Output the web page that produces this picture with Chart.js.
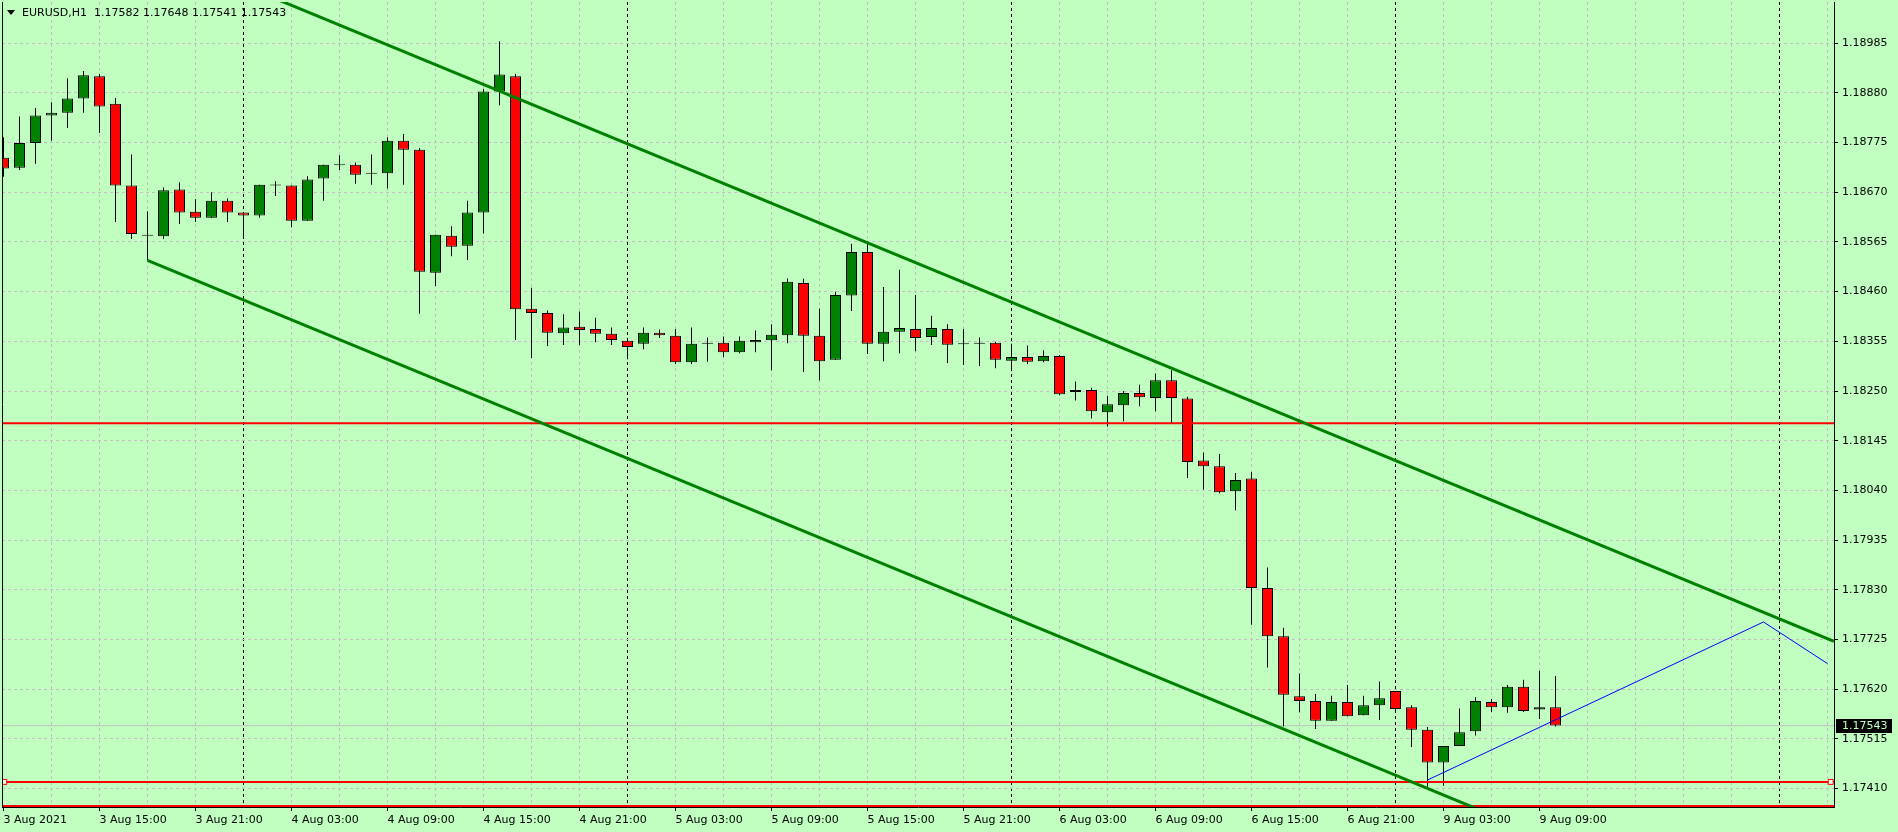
<!DOCTYPE html>
<html>
<head>
<meta charset="utf-8">
<title>EURUSD,H1</title>
<script src="https://cdn.jsdelivr.net/npm/chart.js@4.4.1/dist/chart.umd.min.js"></script>
<style>
    html, body { margin: 0; padding: 0; background: #c0ffc0; overflow: hidden; }
    #chart { display: block; }
</style>
</head>
<body>
<canvas id="chart" width="1898" height="832"></canvas>
<script>
const symbol = 'EURUSD,H1';

// H1 bars, 3 Aug 2021 09:00 -> 9 Aug 2021 10:00 (index = bar number)
const opens = [
    1.18743, 1.18722, 1.18774, 1.18832, 1.18838, 1.18868, 1.18915, 1.18857, 1.18684, 1.18578,
    1.18577, 1.18676, 1.18629, 1.18616, 1.18652, 1.18627, 1.18621, 1.18684, 1.18684, 1.18610,
    1.18699, 1.18727, 1.18728, 1.18709, 1.18710, 1.18779, 1.18760, 1.18500, 1.18578, 1.18557,
    1.18627, 1.18883, 1.18915, 1.18424, 1.18415, 1.18372, 1.18386, 1.18381, 1.18371, 1.18356,
    1.18350, 1.18373, 1.18367, 1.18311, 1.18351, 1.18352, 1.18332, 1.18353, 1.18357, 1.18368,
    1.18478, 1.18367, 1.18316, 1.18452, 1.18544, 1.18350, 1.18375, 1.18381, 1.18364, 1.18381,
    1.18349, 1.18350, 1.18352, 1.18314, 1.18322, 1.18313, 1.18324, 1.18248, 1.18252, 1.18205,
    1.18220, 1.18246, 1.18235, 1.18273, 1.18234, 1.18103, 1.18091, 1.18038, 1.18065, 1.17834,
    1.17732, 1.17605, 1.17595, 1.17553, 1.17593, 1.17565, 1.17586, 1.17616, 1.17582, 1.17534,
    1.17465, 1.17500, 1.17531, 1.17593, 1.17582, 1.17625, 1.17577, 1.17582
];
const highs = [
    1.18786, 1.18830, 1.18848, 1.18860, 1.18911, 1.18926, 1.18920, 1.18869, 1.18750, 1.18630,
    1.18680, 1.18691, 1.18655, 1.18670, 1.18657, 1.18628, 1.18686, 1.18693, 1.18684, 1.18704,
    1.18728, 1.18748, 1.18733, 1.18750, 1.18786, 1.18793, 1.18763, 1.18580, 1.18598, 1.18652,
    1.18888, 1.18989, 1.18920, 1.18468, 1.18420, 1.18412, 1.18418, 1.18405, 1.18384, 1.18356,
    1.18384, 1.18380, 1.18381, 1.18384, 1.18363, 1.18365, 1.18365, 1.18378, 1.18391, 1.18488,
    1.18487, 1.18424, 1.18460, 1.18561, 1.18563, 1.18470, 1.18506, 1.18453, 1.18409, 1.18391,
    1.18381, 1.18363, 1.18354, 1.18350, 1.18346, 1.18336, 1.18326, 1.18270, 1.18257, 1.18240,
    1.18250, 1.18263, 1.18287, 1.18294, 1.18238, 1.18120, 1.18117, 1.18077, 1.18079, 1.17877,
    1.17750, 1.17653, 1.17610, 1.17606, 1.17629, 1.17606, 1.17636, 1.17616, 1.17586, 1.17540,
    1.17500, 1.17579, 1.17603, 1.17599, 1.17629, 1.17640, 1.17659, 1.17648
];
const lows = [
    1.18703, 1.18717, 1.18730, 1.18779, 1.18806, 1.18838, 1.18795, 1.18607, 1.18571, 1.18526,
    1.18571, 1.18603, 1.18607, 1.18616, 1.18607, 1.18573, 1.18616, 1.18662, 1.18596, 1.18610,
    1.18652, 1.18717, 1.18688, 1.18686, 1.18678, 1.18686, 1.18413, 1.18472, 1.18535, 1.18527,
    1.18583, 1.18854, 1.18358, 1.18320, 1.18345, 1.18347, 1.18347, 1.18353, 1.18347, 1.18317,
    1.18338, 1.18362, 1.18307, 1.18307, 1.18312, 1.18322, 1.18330, 1.18332, 1.18294, 1.18351,
    1.18290, 1.18272, 1.18316, 1.18419, 1.18328, 1.18313, 1.18330, 1.18334, 1.18347, 1.18309,
    1.18305, 1.18303, 1.18298, 1.18292, 1.18307, 1.18311, 1.18241, 1.18230, 1.18192, 1.18175,
    1.18186, 1.18218, 1.18207, 1.18181, 1.18066, 1.18042, 1.18034, 1.17998, 1.17756, 1.17666,
    1.17541, 1.17571, 1.17536, 1.17553, 1.17563, 1.17565, 1.17555, 1.17572, 1.17498, 1.17414,
    1.17416, 1.17500, 1.17522, 1.17572, 1.17570, 1.17572, 1.17557, 1.17541
];
const closes = [
    1.18720, 1.18774, 1.18832, 1.18838, 1.18868, 1.18917, 1.18851, 1.18684, 1.18582, 1.18578,
    1.18674, 1.18627, 1.18616, 1.18652, 1.18627, 1.18621, 1.18686, 1.18686, 1.18610, 1.18697,
    1.18728, 1.18727, 1.18707, 1.18709, 1.18779, 1.18760, 1.18502, 1.18580, 1.18555, 1.18627,
    1.18883, 1.18919, 1.18423, 1.18415, 1.18373, 1.18384, 1.18379, 1.18371, 1.18358, 1.18343,
    1.18373, 1.18368, 1.18311, 1.18350, 1.18350, 1.18332, 1.18356, 1.18358, 1.18369, 1.18481,
    1.18367, 1.18313, 1.18453, 1.18544, 1.18350, 1.18375, 1.18383, 1.18362, 1.18383, 1.18348,
    1.18349, 1.18350, 1.18316, 1.18322, 1.18312, 1.18324, 1.18243, 1.18252, 1.18207, 1.18222,
    1.18246, 1.18237, 1.18273, 1.18235, 1.18100, 1.18091, 1.18036, 1.18062, 1.17834, 1.17732,
    1.17608, 1.17595, 1.17553, 1.17593, 1.17563, 1.17586, 1.17601, 1.17578, 1.17534, 1.17465,
    1.17500, 1.17529, 1.17595, 1.17582, 1.17625, 1.17574, 1.17582, 1.17543
];

// one label every 6 bars, starting at bar 0
const timeLabels = [
    '3 Aug 2021', '3 Aug 15:00', '3 Aug 21:00', '4 Aug 03:00', '4 Aug 09:00', '4 Aug 15:00',
    '4 Aug 21:00', '5 Aug 03:00', '5 Aug 09:00', '5 Aug 15:00', '5 Aug 21:00', '6 Aug 03:00',
    '6 Aug 09:00', '6 Aug 15:00', '6 Aug 21:00', '9 Aug 03:00', '9 Aug 09:00'
];
// bars where a new day starts (period separators)
const dayStarts = [15, 39, 63, 87, 111];

const priceTicks = [
    1.17410, 1.17515, 1.17620, 1.17725, 1.17830, 1.17935, 1.18040, 1.18145,
    1.18250, 1.18355, 1.18460, 1.18565, 1.18670, 1.18775, 1.18880, 1.18985
];

// drawn objects (bar index, price)
const upperChannel = [{ x: 17, y: 1.19079 }, { x: 114.4, y: 1.17721 }];
const lowerChannel = [{ x: 9, y: 1.18526 }, { x: 114.4, y: 1.17056 }];
const bluePath = [{ x: 89, y: 1.17428 }, { x: 110, y: 1.17762 }, { x: 114, y: 1.17674 }];
const redLevels = [1.18182, 1.17424, 1.17373];
const selectedLevel = 1.17424;

// visible window
const xMin = -0.09375;
const xMax = 114.40625;
const yMin = 1.17371;
const yMax = 1.19072;

const BG = '#c0ffc0';
const GRID = '#c8bcc8';
const BULL = '#008000';
const BEAR = '#ff0000';
const FONT = { family: 'DejaVu Sans', size: 11 };

const bodies = opens.map((o, i) => ({ x: i, y: [o, closes[i]] }));
const wicks = lows.map((l, i) => ({ x: i, y: [l, highs[i]] }));
const bodyColors = opens.map((o, i) => closes[i] >= o ? BULL : BEAR);
const lastClose = closes[closes.length - 1];

function levelLine(price, color, width, handles) {
    const data = handles
        ? [{ x: xMin, y: price }, { x: 0.05, y: price }, { x: 114.2, y: price }, { x: xMax, y: price }]
        : [{ x: xMin, y: price }, { x: xMax, y: price }];
    return {
        type: 'line',
        data: data,
        borderColor: color,
        borderWidth: width,
        pointRadius: handles ? [0, 3.5, 3.5, 0] : 0,
        pointStyle: 'rect',
        pointBorderColor: color,
        pointBackgroundColor: '#f0fff0',
        pointBorderWidth: 1,
        clip: 0,
        order: 0
    };
}

// keep the plot area at fixed edges, no label overhang padding
function noPadding(scale) {
    scale.paddingTop = 0;
    scale.paddingBottom = 0;
    scale.paddingLeft = 0;
    scale.paddingRight = 0;
}

const overlayPlugin = {
    id: 'overlay',
    afterDraw(chart) {
        const { ctx, chartArea, scales } = chart;
        ctx.save();

        // left frame edge
        ctx.strokeStyle = '#000';
        ctx.lineWidth = 1;
        ctx.beginPath();
        ctx.moveTo(chartArea.left + 0.5, chartArea.top);
        ctx.lineTo(chartArea.left + 0.5, chartArea.bottom);
        ctx.stroke();

        // symbol header
        ctx.fillStyle = '#000';
        ctx.beginPath();
        ctx.moveTo(7, 10);
        ctx.lineTo(15, 10);
        ctx.lineTo(11, 15);
        ctx.closePath();
        ctx.fill();
        ctx.font = `${FONT.size}px "${FONT.family}"`;
        ctx.textBaseline = 'middle';
        ctx.textAlign = 'left';
        const last = opens.length - 1;
        const header = `${symbol}  ${opens[last].toFixed(5)} ${highs[last].toFixed(5)} ${lows[last].toFixed(5)} ${closes[last].toFixed(5)}`;
        ctx.fillText(header, 22, 13);

        // current price tag
        const y = Math.round(scales.y.getPixelForValue(lastClose));
        ctx.fillStyle = '#000';
        ctx.fillRect(chartArea.right + 2, y - 7, 56, 14);
        ctx.fillStyle = BG;
        ctx.fillText(lastClose.toFixed(5), chartArea.right + 8, y);
        ctx.restore();
    }
};

new Chart(document.getElementById('chart'), {
    type: 'bar',
    data: {
        datasets: [
            {
                type: 'line',
                data: upperChannel,
                borderColor: BULL,
                borderWidth: 3,
                pointRadius: 0,
                clip: 0,
                order: 0
            },
            {
                type: 'line',
                data: lowerChannel,
                borderColor: BULL,
                borderWidth: 3,
                pointRadius: 0,
                clip: 0,
                order: 0
            },
            {
                type: 'line',
                data: bluePath,
                borderColor: '#0000ff',
                borderWidth: 1,
                pointRadius: 0,
                clip: 0,
                order: 0
            },
            ...redLevels.map(p => levelLine(p, BEAR, 2, p === selectedLevel)),
            {
                data: bodies,
                backgroundColor: bodyColors,
                borderColor: '#000',
                borderWidth: 1,
                borderSkipped: false,
                barThickness: 11,
                minBarLength: 1,
                inflateAmount: 0,
                grouped: false,
                clip: 0,
                order: 1
            },
            {
                data: wicks,
                backgroundColor: '#000',
                borderWidth: 0,
                barThickness: 1,
                inflateAmount: 0,
                grouped: false,
                clip: 0,
                order: 2
            },
            {
                type: 'line',
                data: [{ x: xMin, y: lastClose }, { x: xMax, y: lastClose }],
                borderColor: '#c0c0c0',
                borderWidth: 1,
                pointRadius: 0,
                clip: 0,
                order: 3
            }
        ]
    },
    options: {
        responsive: false,
        animation: false,
        devicePixelRatio: 1,
        layout: { padding: { left: 2, top: 2, right: 0, bottom: 0 } },
        plugins: {
            legend: { display: false },
            tooltip: { enabled: false }
        },
        scales: {
            x: {
                type: 'linear',
                min: xMin,
                max: xMax,
                offset: false,
                afterBuildTicks: function(scale) {
                    const ticks = [];
                    for (let v = 0; v <= xMax; v += 3) {
                        ticks.push({ value: v });
                    }
                    scale.ticks = ticks;
                },
                afterFit: function(scale) {
                    scale.height = 25;
                    noPadding(scale);
                },
                grid: {
                    offset: false,
                    color: function(context) {
                        const v = context.tick ? context.tick.value : -1;
                        if (v === 0) return 'transparent';
                        if (dayStarts.includes(v)) return '#000';
                        return GRID;
                    },
                    tickLength: 4,
                    tickColor: function(context) {
                        const v = context.tick ? context.tick.value : -1;
                        return (v % 6 === 0 && timeLabels[v / 6]) ? '#000' : 'transparent';
                    },
                    tickBorderDash: []
                },
                border: { display: true, color: '#000', width: 1, dash: [3, 3] },
                ticks: {
                    autoSkip: false,
                    maxRotation: 0,
                    minRotation: 0,
                    align: 'start',
                    padding: 3,
                    color: '#000',
                    font: FONT,
                    callback: function(value) {
                        return value % 6 === 0 && timeLabels[value / 6] ? timeLabels[value / 6] : '';
                    }
                }
            },
            y: {
                type: 'linear',
                position: 'right',
                min: yMin,
                max: yMax,
                afterBuildTicks: function(scale) {
                    scale.ticks = priceTicks.map(v => ({ value: v }));
                },
                afterFit: function(scale) {
                    scale.width = 64;
                    noPadding(scale);
                },
                grid: {
                    color: GRID,
                    tickLength: 4,
                    tickColor: '#000',
                    tickBorderDash: []
                },
                border: { display: true, color: '#000', width: 1, dash: [3, 3] },
                ticks: {
                    autoSkip: false,
                    padding: 4,
                    color: '#000',
                    font: FONT,
                    callback: function(value) {
                        return value.toFixed(5);
                    }
                }
            }
        }
    },
    plugins: [overlayPlugin]
});
</script>
</body>
</html>
